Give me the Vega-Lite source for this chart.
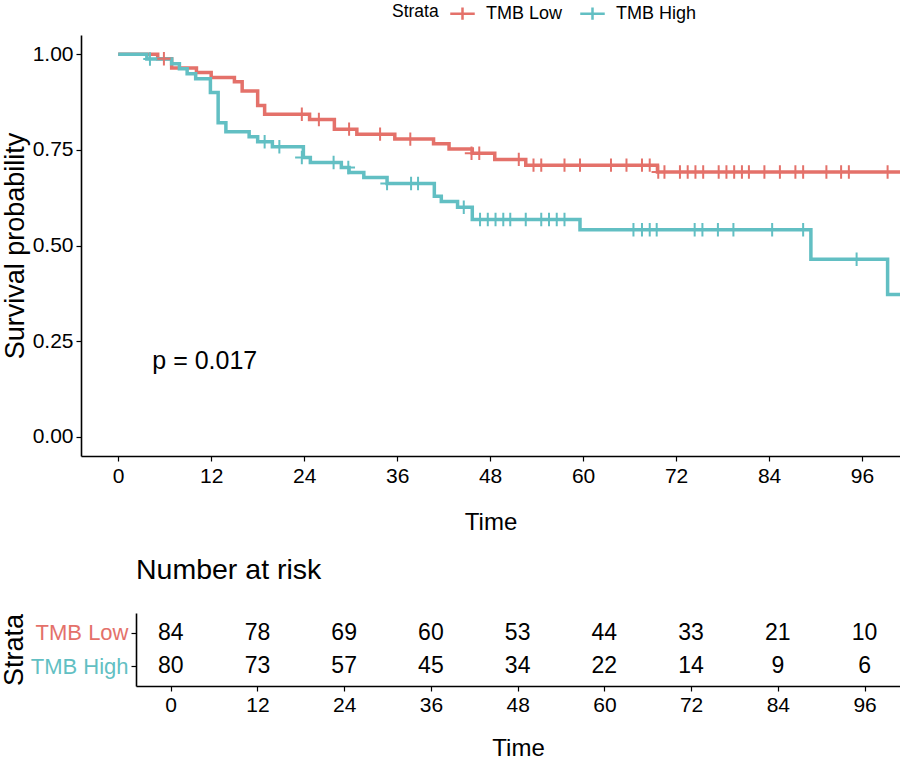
{
  "$schema": "https://vega.github.io/schema/vega-lite/v6.json",
  "padding": 0,
  "background": "white",
  "config": {
    "font": "Liberation Sans",
    "view": {"stroke": null},
    "axis": {"grid": false, "domainColor": "black", "domainWidth": 1.6, "tickColor": "black", "tickWidth": 1.2, "tickSize": 5, "labelColor": "black", "titleColor": "black", "labelFont": "Liberation Sans", "titleFont": "Liberation Sans", "titleFontWeight": "normal"},
    "title": {"font": "Liberation Sans", "fontWeight": "normal", "color": "black"},
    "legend": {"labelFont": "Liberation Sans", "titleFont": "Liberation Sans", "titleFontWeight": "normal"}
  },
  "datasets": {
    "km": [
      {"strata": "TMB Low", "time": 0, "surv": 1},
      {"strata": "TMB Low", "time": 5.1, "surv": 0.988},
      {"strata": "TMB Low", "time": 6.9, "surv": 0.964},
      {"strata": "TMB Low", "time": 10.1, "surv": 0.952},
      {"strata": "TMB Low", "time": 12.0, "surv": 0.939},
      {"strata": "TMB Low", "time": 15.0, "surv": 0.928},
      {"strata": "TMB Low", "time": 16.0, "surv": 0.904},
      {"strata": "TMB Low", "time": 18.0, "surv": 0.866},
      {"strata": "TMB Low", "time": 18.9, "surv": 0.843},
      {"strata": "TMB Low", "time": 24.7, "surv": 0.829},
      {"strata": "TMB Low", "time": 27.9, "surv": 0.804},
      {"strata": "TMB Low", "time": 30.8, "surv": 0.791},
      {"strata": "TMB Low", "time": 35.7, "surv": 0.778},
      {"strata": "TMB Low", "time": 40.7, "surv": 0.766},
      {"strata": "TMB Low", "time": 42.7, "surv": 0.752},
      {"strata": "TMB Low", "time": 45.7, "surv": 0.741},
      {"strata": "TMB Low", "time": 48.6, "surv": 0.725},
      {"strata": "TMB Low", "time": 52.6, "surv": 0.710},
      {"strata": "TMB Low", "time": 69.6, "surv": 0.692},
      {"strata": "TMB Low", "time": 100.9, "surv": 0.692},
      {"strata": "TMB High", "time": 0, "surv": 1},
      {"strata": "TMB High", "time": 3.7, "surv": 0.9875},
      {"strata": "TMB High", "time": 6.9, "surv": 0.975},
      {"strata": "TMB High", "time": 7.9, "surv": 0.962},
      {"strata": "TMB High", "time": 8.9, "surv": 0.949},
      {"strata": "TMB High", "time": 10.0, "surv": 0.936},
      {"strata": "TMB High", "time": 11.9, "surv": 0.900},
      {"strata": "TMB High", "time": 12.9, "surv": 0.821},
      {"strata": "TMB High", "time": 13.9, "surv": 0.797},
      {"strata": "TMB High", "time": 16.9, "surv": 0.784},
      {"strata": "TMB High", "time": 18.0, "surv": 0.771},
      {"strata": "TMB High", "time": 19.9, "surv": 0.758},
      {"strata": "TMB High", "time": 23.9, "surv": 0.730},
      {"strata": "TMB High", "time": 24.8, "surv": 0.717},
      {"strata": "TMB High", "time": 28.8, "surv": 0.704},
      {"strata": "TMB High", "time": 29.8, "surv": 0.691},
      {"strata": "TMB High", "time": 31.7, "surv": 0.678},
      {"strata": "TMB High", "time": 34.7, "surv": 0.662},
      {"strata": "TMB High", "time": 40.8, "surv": 0.629},
      {"strata": "TMB High", "time": 41.7, "surv": 0.615},
      {"strata": "TMB High", "time": 43.8, "surv": 0.600},
      {"strata": "TMB High", "time": 45.7, "surv": 0.568},
      {"strata": "TMB High", "time": 59.6, "surv": 0.541},
      {"strata": "TMB High", "time": 89.4, "surv": 0.464},
      {"strata": "TMB High", "time": 99.3, "surv": 0.372},
      {"strata": "TMB High", "time": 100.9, "surv": 0.372}
    ],
    "cens": [
      {"strata": "TMB Low", "time": 5.9, "surv": 0.988},
      {"strata": "TMB Low", "time": 23.7, "surv": 0.843},
      {"strata": "TMB Low", "time": 25.9, "surv": 0.829},
      {"strata": "TMB Low", "time": 29.8, "surv": 0.804},
      {"strata": "TMB Low", "time": 33.8, "surv": 0.791},
      {"strata": "TMB Low", "time": 37.7, "surv": 0.778},
      {"strata": "TMB Low", "time": 45.6, "surv": 0.741},
      {"strata": "TMB Low", "time": 46.6, "surv": 0.741},
      {"strata": "TMB Low", "time": 51.7, "surv": 0.725},
      {"strata": "TMB Low", "time": 53.6, "surv": 0.710},
      {"strata": "TMB Low", "time": 54.6, "surv": 0.710},
      {"strata": "TMB Low", "time": 57.6, "surv": 0.710},
      {"strata": "TMB Low", "time": 59.6, "surv": 0.710},
      {"strata": "TMB Low", "time": 63.6, "surv": 0.710},
      {"strata": "TMB Low", "time": 65.6, "surv": 0.710},
      {"strata": "TMB Low", "time": 67.6, "surv": 0.710},
      {"strata": "TMB Low", "time": 68.6, "surv": 0.710},
      {"strata": "TMB Low", "time": 69.7, "surv": 0.692},
      {"strata": "TMB Low", "time": 70.5, "surv": 0.692},
      {"strata": "TMB Low", "time": 72.5, "surv": 0.692},
      {"strata": "TMB Low", "time": 73.5, "surv": 0.692},
      {"strata": "TMB Low", "time": 74.5, "surv": 0.692},
      {"strata": "TMB Low", "time": 75.5, "surv": 0.692},
      {"strata": "TMB Low", "time": 77.5, "surv": 0.692},
      {"strata": "TMB Low", "time": 78.5, "surv": 0.692},
      {"strata": "TMB Low", "time": 79.5, "surv": 0.692},
      {"strata": "TMB Low", "time": 80.5, "surv": 0.692},
      {"strata": "TMB Low", "time": 81.4, "surv": 0.692},
      {"strata": "TMB Low", "time": 83.4, "surv": 0.692},
      {"strata": "TMB Low", "time": 85.4, "surv": 0.692},
      {"strata": "TMB Low", "time": 87.4, "surv": 0.692},
      {"strata": "TMB Low", "time": 88.4, "surv": 0.692},
      {"strata": "TMB Low", "time": 91.4, "surv": 0.692},
      {"strata": "TMB Low", "time": 93.3, "surv": 0.692},
      {"strata": "TMB Low", "time": 94.3, "surv": 0.692},
      {"strata": "TMB Low", "time": 99.3, "surv": 0.692},
      {"strata": "TMB High", "time": 4.1, "surv": 0.9875},
      {"strata": "TMB High", "time": 18.9, "surv": 0.771},
      {"strata": "TMB High", "time": 20.8, "surv": 0.758},
      {"strata": "TMB High", "time": 23.7, "surv": 0.730},
      {"strata": "TMB High", "time": 27.8, "surv": 0.717},
      {"strata": "TMB High", "time": 29.7, "surv": 0.704},
      {"strata": "TMB High", "time": 34.7, "surv": 0.662},
      {"strata": "TMB High", "time": 37.8, "surv": 0.662},
      {"strata": "TMB High", "time": 38.7, "surv": 0.662},
      {"strata": "TMB High", "time": 44.6, "surv": 0.600},
      {"strata": "TMB High", "time": 46.7, "surv": 0.568},
      {"strata": "TMB High", "time": 47.7, "surv": 0.568},
      {"strata": "TMB High", "time": 48.7, "surv": 0.568},
      {"strata": "TMB High", "time": 49.7, "surv": 0.568},
      {"strata": "TMB High", "time": 50.6, "surv": 0.568},
      {"strata": "TMB High", "time": 52.6, "surv": 0.568},
      {"strata": "TMB High", "time": 54.6, "surv": 0.568},
      {"strata": "TMB High", "time": 55.6, "surv": 0.568},
      {"strata": "TMB High", "time": 56.6, "surv": 0.568},
      {"strata": "TMB High", "time": 57.6, "surv": 0.568},
      {"strata": "TMB High", "time": 66.5, "surv": 0.541},
      {"strata": "TMB High", "time": 67.6, "surv": 0.541},
      {"strata": "TMB High", "time": 68.6, "surv": 0.541},
      {"strata": "TMB High", "time": 69.5, "surv": 0.541},
      {"strata": "TMB High", "time": 74.4, "surv": 0.541},
      {"strata": "TMB High", "time": 75.4, "surv": 0.541},
      {"strata": "TMB High", "time": 77.4, "surv": 0.541},
      {"strata": "TMB High", "time": 79.4, "surv": 0.541},
      {"strata": "TMB High", "time": 84.4, "surv": 0.541},
      {"strata": "TMB High", "time": 88.4, "surv": 0.541},
      {"strata": "TMB High", "time": 95.3, "surv": 0.464}
    ],
    "risk": [
      {"strata": "TMB Low", "time": 0, "n": 84},
      {"strata": "TMB Low", "time": 12, "n": 78},
      {"strata": "TMB Low", "time": 24, "n": 69},
      {"strata": "TMB Low", "time": 36, "n": 60},
      {"strata": "TMB Low", "time": 48, "n": 53},
      {"strata": "TMB Low", "time": 60, "n": 44},
      {"strata": "TMB Low", "time": 72, "n": 33},
      {"strata": "TMB Low", "time": 84, "n": 21},
      {"strata": "TMB Low", "time": 96, "n": 10},
      {"strata": "TMB High", "time": 0, "n": 80},
      {"strata": "TMB High", "time": 12, "n": 73},
      {"strata": "TMB High", "time": 24, "n": 57},
      {"strata": "TMB High", "time": 36, "n": 45},
      {"strata": "TMB High", "time": 48, "n": 34},
      {"strata": "TMB High", "time": 60, "n": 22},
      {"strata": "TMB High", "time": 72, "n": 14},
      {"strata": "TMB High", "time": 84, "n": 9},
      {"strata": "TMB High", "time": 96, "n": 6}
    ],
    "pval": [
      {"time": 4.4, "surv": 0.198, "label": "p = 0.017"}
    ]
  },
  "resolve": {"legend": {"color": "independent"}, "scale": {"x": "independent", "color": "independent"}},
  "spacing": 21,
  "vconcat": [
    {
      "width": 819,
      "height": 421,
      "layer": [
        {
          "data": {"name": "km"},
          "mark": {"type": "line", "interpolate": "step-after", "strokeWidth": 3.5, "clip": true},
          "encoding": {
            "x": {"field": "time", "type": "quantitative", "scale": {"domain": [-4.8, 100.9], "nice": false, "zero": false},
              "axis": {"values": [0, 12, 24, 36, 48, 60, 72, 84, 96], "title": "Time", "labelFontSize": 21, "titleFontSize": 24, "labelPadding": 4, "titlePadding": 24, "labelFlush": false}},
            "y": {"field": "surv", "type": "quantitative", "scale": {"domain": [-0.05, 1.05], "nice": false, "zero": false},
              "axis": {"values": [0, 0.25, 0.5, 0.75, 1], "format": ".2f", "title": "Survival probability", "labelFontSize": 21, "titleFontSize": 27, "labelPadding": 3, "titlePadding": 3}},
            "color": {"field": "strata", "type": "nominal", "scale": {"domain": ["TMB Low", "TMB High"], "range": ["#E4716A", "#62BFC3"]},
              "legend": {"title": "Strata", "orient": "none", "legendX": 311, "legendY": -35, "direction": "horizontal", "titleOrient": "left", "titleFontSize": 17.5, "labelFontSize": 18, "titlePadding": 10, "columnPadding": 12, "labelOffset": 10, "symbolType": "M-1,0H1M0,-0.5V0.5", "symbolSize": 600, "symbolStrokeWidth": 2.5, "titleColor": "black", "labelColor": "black"}}
          }
        },
        {
          "data": {"name": "cens"},
          "mark": {"type": "point", "shape": "M0,-1V1M-1,0H1", "filled": false, "strokeWidth": 2, "size": 180, "opacity": 1, "clip": true},
          "encoding": {
            "x": {"field": "time", "type": "quantitative"},
            "y": {"field": "surv", "type": "quantitative"},
            "color": {"field": "strata", "type": "nominal"}
          }
        },
        {
          "data": {"name": "pval"},
          "mark": {"type": "text", "align": "left", "baseline": "middle", "fontSize": 25, "color": "black"},
          "encoding": {
            "x": {"field": "time", "type": "quantitative"},
            "y": {"field": "surv", "type": "quantitative"},
            "text": {"field": "label"}
          }
        }
      ]
    },
    {
      "width": 819,
      "height": 73,
      "title": {"text": "Number at risk", "anchor": "start", "frame": "group", "fontSize": 28.5, "offset": 29, "dx": 55},
      "data": {"name": "risk"},
      "mark": {"type": "text", "fontSize": 23, "color": "black", "baseline": "middle"},
      "encoding": {
        "x": {"field": "time", "type": "quantitative", "scale": {"domain": [-4.8, 100.9], "nice": false, "zero": false, "range": [55, 819]},
          "axis": {"values": [0, 12, 24, 36, 48, 60, 72, 84, 96], "title": "Time", "labelFontSize": 21, "titleFontSize": 24, "labelPadding": 3, "titlePadding": 21, "labelFlush": false}},
        "y": {"field": "strata", "type": "nominal", "scale": {"type": "point", "domain": ["TMB Low", "TMB High"], "padding": 0.6},
          "axis": {"title": "Strata", "titleFontSize": 27, "labelFontSize": 22, "labelPadding": 3, "titlePadding": 2, "offset": -55,
            "labelColor": {"condition": {"test": "datum.value == 'TMB Low'", "value": "#E4716A"}, "value": "#62BFC3"}}},
        "text": {"field": "n", "type": "quantitative"}
      }
    }
  ]
}
